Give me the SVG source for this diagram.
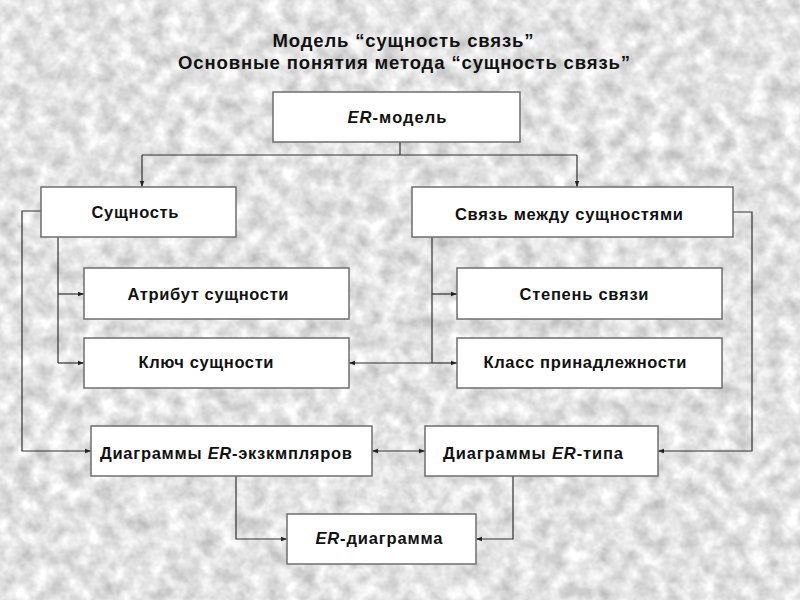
<svg xmlns="http://www.w3.org/2000/svg" width="800" height="600" viewBox="0 0 800 600">
<style>
.box{fill:#fff;stroke:#6e6e6e;stroke-width:1.5}
.lbl{font-family:"Liberation Sans",Arial,sans-serif;font-weight:bold;font-size:16.5px;fill:#111;text-anchor:middle}
.ttl{font-family:"Liberation Sans",Arial,sans-serif;font-weight:bold;font-size:18.5px;fill:#111;text-anchor:middle}
.c{fill:none;stroke:#333;stroke-width:1.2}
.ca{fill:none;stroke:#333;stroke-width:1.2;marker-end:url(#ah)}
</style>
<defs>
<filter id="noise" x="0" y="0" width="100%" height="100%" color-interpolation-filters="sRGB">
<feTurbulence type="fractalNoise" baseFrequency="0.06" numOctaves="3" seed="7"/>
<feColorMatrix type="matrix" values="0.38 0 0 0 0.7  0.38 0 0 0 0.7  0.38 0 0 0 0.7  0 0 0 0 1"/>
</filter>
<marker id="ah" viewBox="0 0 6 6" refX="6" refY="3" markerWidth="6" markerHeight="6" markerUnits="userSpaceOnUse" orient="auto">
<path d="M0,0.8 L6,3 L0,5.2 z" fill="#222"/>
</marker>
<marker id="ahs" viewBox="0 0 6 6" refX="0" refY="3" markerWidth="6" markerHeight="6" markerUnits="userSpaceOnUse" orient="auto">
<path d="M6,0.8 L0,3 L6,5.2 z" fill="#222"/>
</marker>
</defs>
<rect x="0" y="0" width="800" height="600" fill="#e2e2e2"/>
<rect x="0" y="0" width="800" height="600" filter="url(#noise)"/>

<g id="title">
<text class="ttl" x="403" y="47" textLength="261" lengthAdjust="spacing">Модель “сущность связь”</text>
<text class="ttl" x="404" y="69" textLength="452" lengthAdjust="spacing">Основные понятия метода “сущность связь”</text>
</g>

<g id="connectors">
<path class="c" d="M400 142 V155 M142 155 H577"/>
<path class="ca" d="M142 155 V187"/>
<path class="ca" d="M577 155 V187"/>
<path class="ca" d="M41 211 H22 V451 H91"/>
<path class="c" d="M58 237 V363"/>
<path class="ca" d="M58 294 H84"/>
<path class="ca" d="M58 363 H84"/>
<path class="c" d="M432 237 V363"/>
<path class="ca" d="M432 294 H457"/>
<path class="ca" d="M432 363 H457"/>
<path class="ca" d="M432 363 H349"/>
<path class="ca" d="M733 212 H752 V451 H658"/>
<path class="ca" style="marker-start:url(#ahs)" d="M372 451 H425"/>
<path class="ca" d="M236 476 V539 H287"/>
<path class="ca" d="M513 476 V539 H476"/>
</g>

<g id="er-model">
<rect class="box" x="273" y="92" width="247" height="50"/>
<text class="lbl" x="397" y="123" textLength="99" lengthAdjust="spacing"><tspan font-style="italic">ER</tspan>-модель</text>
</g>
<g id="entity">
<rect class="box" x="41" y="187" width="195" height="50"/>
<text class="lbl" x="135" y="218" textLength="87" lengthAdjust="spacing">Сущность</text>
</g>
<g id="relationship">
<rect class="box" x="412" y="187" width="321" height="50"/>
<text class="lbl" x="569" y="220" textLength="228" lengthAdjust="spacing">Связь между сущностями</text>
</g>
<g id="attribute">
<rect class="box" x="84" y="268" width="265" height="51"/>
<text class="lbl" x="208" y="300" textLength="161" lengthAdjust="spacing">Атрибут сущности</text>
</g>
<g id="key">
<rect class="box" x="84" y="338" width="265" height="50"/>
<text class="lbl" x="206" y="368" textLength="135" lengthAdjust="spacing">Ключ сущности</text>
</g>
<g id="degree">
<rect class="box" x="457" y="268" width="265" height="51"/>
<text class="lbl" x="584" y="300" textLength="129" lengthAdjust="spacing">Степень связи</text>
</g>
<g id="membership">
<rect class="box" x="457" y="338" width="265" height="50"/>
<text class="lbl" x="585" y="368" textLength="203" lengthAdjust="spacing">Класс принадлежности</text>
</g>
<g id="er-instances">
<rect class="box" x="91" y="426" width="281" height="50"/>
<text class="lbl" x="226" y="459" textLength="252" lengthAdjust="spacing">Диаграммы <tspan font-style="italic">ER</tspan>-экзкмпляров</text>
</g>
<g id="er-types">
<rect class="box" x="425" y="426" width="233" height="50"/>
<text class="lbl" x="533" y="459" textLength="180" lengthAdjust="spacing">Диаграммы <tspan font-style="italic">ER</tspan>-типа</text>
</g>
<g id="er-diagram">
<rect class="box" x="287" y="514" width="189" height="50"/>
<text class="lbl" x="379" y="544" textLength="127" lengthAdjust="spacing"><tspan font-style="italic">ER</tspan>-диаграмма</text>
</g>
</svg>
